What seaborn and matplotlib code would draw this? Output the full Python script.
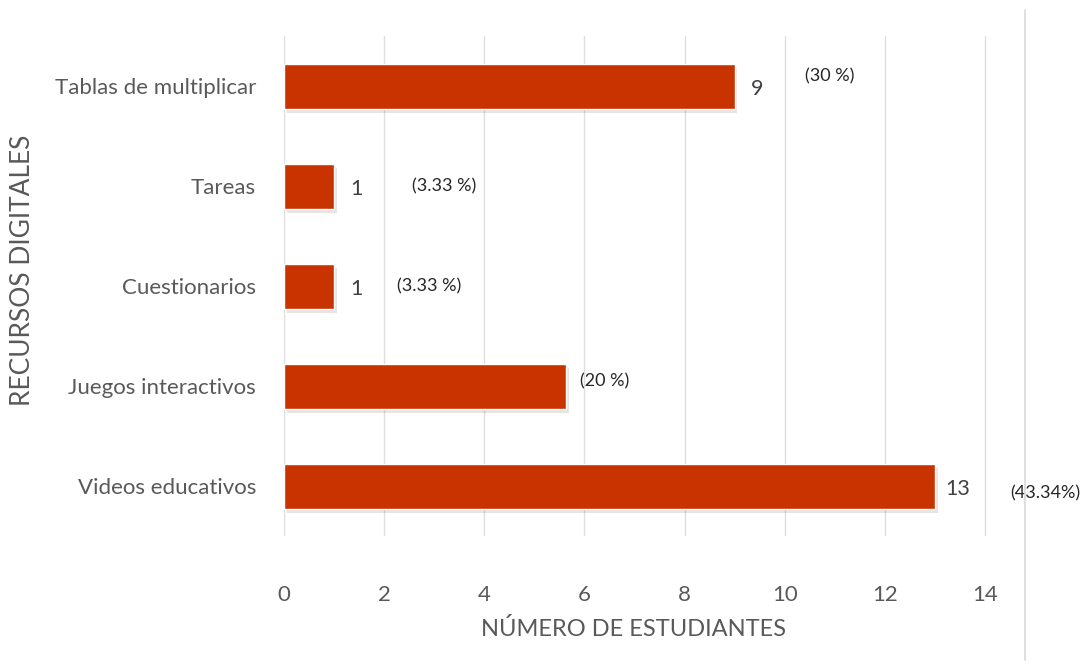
import matplotlib
matplotlib.use("Agg")
import matplotlib.pyplot as plt
import matplotlib.patheffects as pe
from matplotlib.lines import Line2D
import seaborn as sns
import pandas as pd

# Data
recursos = ["Tablas de multiplicar", "Tareas", "Cuestionarios",
            "Juegos interactivos", "Videos educativos"]
estudiantes = [9, 1, 1, 5.63, 13]
conteo_txt = ["9", "1", "1", "", "13"]
porcentaje_txt = ["(30 %)", "(3.33 %)", "(3.33 %)", "(20 %)", "(43.34%)"]
xticks = [0, 2, 4, 6, 8, 10, 12, 14]

# Label placement (data x, y nudge)
pct_x = [10.9, 3.2, 2.9, 6.4, 15.2]
pct_dy = [-0.1, 0.0, 0.0, -0.05, 0.07]

df = pd.DataFrame({"recurso": recursos, "n": estudiantes})

sns.set_theme(style="white")
plt.rcParams["font.family"] = ["Lato", "DejaVu Sans"]

fig = plt.figure(figsize=(10.86, 6.66), dpi=100)
ax = fig.add_axes([284 / 1086, 1 - 536 / 666, (1025 - 284) / 1086, 500 / 666])

bar_color = "#C93300"
sns.barplot(data=df, x="n", y="recurso", orient="h", color=bar_color,
            width=0.45, saturation=1, ax=ax, zorder=3)
for p in ax.patches:
    p.set_path_effects([pe.SimplePatchShadow(offset=(2, -3), alpha=0.18,
                                             shadow_rgbFace="#7a6a60"),
                        pe.Normal()])

ax.set_xlim(0, 14.8)
ax.set_ylim(4.5, -0.5)
ax.set_xticks(xticks)
ax.xaxis.grid(True, color="#DEDEDE", lw=1)
ax.set_axisbelow(True)
for s in ax.spines.values():
    s.set_visible(False)
ax.tick_params(axis="both", length=0, labelcolor="#595959", labelsize=16)
ax.tick_params(axis="x", pad=35)
ax.tick_params(axis="y", pad=20)

ax.set_xlabel("NÚMERO DE ESTUDIANTES", fontsize=17, color="#595959")
ax.set_ylabel("RECURSOS DIGITALES", fontsize=19, color="#595959")
ax.yaxis.set_label_coords(-0.336, 0.532)
ax.xaxis.set_label_coords(0.472, -0.165)

for i, (v, c, ptxt) in enumerate(zip(estudiantes, conteo_txt, porcentaje_txt)):
    if c:
        ax.text(v + 0.45, i + 0.03, c, ha="center", va="center",
                fontsize=15.5, color="#404040", clip_on=False)
    ax.text(pct_x[i], i + pct_dy[i], ptxt, ha="center", va="center",
            fontsize=13, color="#262626", clip_on=False)

# Outer frame edge on the right
fig.add_artist(Line2D([1025 / 1086, 1025 / 1086], [1 - 10 / 666, 1 - 660 / 666],
                      color="#D9D9D9", lw=1.2, transform=fig.transFigure))

fig.savefig("out.png", dpi=100, facecolor="white")
